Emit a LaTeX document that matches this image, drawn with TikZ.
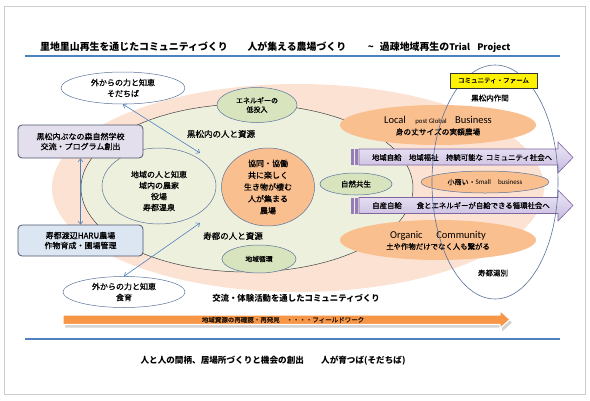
\documentclass[tikz,border=0pt]{standalone}
\usepackage{fontspec}
\setmainfont{Noto Sans CJK JP}[UprightFeatures={FakeBold=0.8}]
\newfontfamily\lat{Carlito}
\usetikzlibrary{shapes.geometric,arrows.meta}
\definecolor{peach}{RGB}{251,226,211}
\definecolor{greenbg}{RGB}{238,240,222}
\definecolor{greenell}{RGB}{215,228,189}
\definecolor{orangeell}{RGB}{250,191,143}
\definecolor{ellline}{RGB}{90,115,155}
\definecolor{blueline}{RGB}{79,129,189}
\definecolor{lavbox}{RGB}{228,223,236}
\definecolor{bluebox}{RGB}{220,230,242}
\definecolor{boxline}{RGB}{75,85,110}
\definecolor{arrorange}{RGB}{247,150,70}
\definecolor{purtop}{RGB}{238,233,247}
\definecolor{purbot}{RGB}{198,184,222}
\definecolor{purline}{RGB}{128,100,162}
\definecolor{stripe}{RGB}{150,125,185}
\pgfdeclareradialshading{peachglow}{\pgfpoint{0bp}{0bp}}{color(0bp)=(peach);color(42bp)=(peach);color(50bp)=(peach!40!white)}
\newcommand{\fs}[2]{\fontsize{#1}{#2}\selectfont}
\tikzset{
  ell/.style={ellipse, draw=ellline, line width=0.5pt, inner sep=0pt, align=center},
  roundbox/.style={draw=boxline, line width=0.8pt, rounded corners=4pt, inner sep=0pt, align=center},
  conn/.style={draw=blueline, line width=0.6pt, {Straight Barb[length=3pt,width=5pt]}-{Straight Barb[length=3pt,width=5pt]}},
  purarrow/.style={top color=purtop, bottom color=purbot, draw=purline, line width=0.6pt},
  txt/.style={inner sep=0pt, align=center}
}
\begin{document}
\begin{tikzpicture}[x=1pt,y=-1pt]
\useasboundingbox (0,0) rectangle (590,400);
\fill[white] (0,0) rectangle (590,400);
\draw[gray!40, line width=0.8pt] (4,6) rectangle (585,394);

% title
\node[txt, anchor=west, font=\fs{9.9}{11}\bfseries] (title) at (40,47) {里地里山再生を通じたコミュニティづくり\hspace{2em}人が集える農場づくり\hspace{2.2em}\textasciitilde\hspace{0.6em}過疎地域再生の{\fs{9}{11}\bfseries Trial\hspace{0.8em}Project}};
\draw[blueline, line width=1.2pt] (25,56) -- (560,56);

% background ellipses
\node[ellipse, minimum width=492pt, minimum height=208pt, shading=peachglow, inner sep=0pt] (peachbg) at (298,188) {};
\node[ellipse, draw=black!75, line width=0.5pt, fill=greenbg, minimum width=332pt, minimum height=168pt, inner sep=0pt] (greenbg) at (247,188) {};

% orange business ellipses
\node[ellipse, fill=orangeell, minimum width=196pt, minimum height=40pt, inner sep=0pt, align=center] (local) at (438,125) {};
\node[txt] (localtext) at (438,126) {{\lat\fs{10.5}{12}Local\hspace{0.9em}{\fs{6.8}{8}post Global}\hspace{0.8em}Business}\\[-1pt]{\fs{7.7}{9}身の丈サイズの実額農場}};
\node[ellipse, fill=orangeell, minimum width=196pt, minimum height=40pt, inner sep=0pt] (organic) at (438,240) {};
\node[txt] (organictext) at (438,240.5) {{\lat\fs{10.5}{12}Organic\hspace{1.3em}Community}\\[-1pt]{\fs{7.4}{9}土や作物だけでなく人も繋がる}};

% inner items
\node[ell, minimum width=114pt, minimum height=76pt] (inner) at (159,186) {};
\node[txt, font=\fs{8}{11}] (innertext) at (159,191) {地域の人と知恵\\域内の農家\\役場\\寿都温泉};
\node[ell, fill=orangeell, minimum width=93pt, minimum height=78pt, font=\fs{8}{11.8}] (core) at (268,187) {協同・協働\\共に楽しく\\生き物が棲む\\人が集まる\\農場};
\node[ell, fill=greenell, minimum width=80pt, minimum height=35pt, font=\fs{7}{9}] (energy) at (257,105) {エネルギーの\\低投入};
\node[ell, fill=greenell, minimum width=74pt, minimum height=28pt, font=\fs{6.8}{8}] (junkan) at (259,259) {地域循環};
\node[ell, fill=greenell, minimum width=72pt, minimum height=22pt, font=\fs{7.5}{9}] (shizen) at (356,184) {自然共生};
\node[txt, font=\fs{8.5}{10}] (kuroRes) at (221,134) {黒松内の人と資源};
\node[txt, font=\fs{8.5}{10}] (suttsuRes) at (233,236) {寿都の人と資源};

% purple arrows
\fill[stripe] (351,149) rectangle (353.5,165);
\fill[stripe] (355,149) rectangle (357.5,165);
\shade[purarrow] (359,149) -- (558,149) -- (558,142) -- (573,157.5) -- (558,173) -- (558,165) -- (359,165) -- cycle;
\node[txt, font=\fs{7.4}{9}] (arrow1text) at (462,157.5) {地域自給\hspace{1em}地域福祉\hspace{1em}持続可能な\hspace{0.4em}コミュニティ社会へ};
\fill[stripe] (351,197.5) rectangle (353.5,213.5);
\fill[stripe] (355,197.5) rectangle (357.5,213.5);
\shade[purarrow] (359,197.5) -- (558,197.5) -- (558,190) -- (573,205.5) -- (558,221) -- (558,213.5) -- (359,213.5) -- cycle;
\node[txt, font=\fs{7.4}{9}] (arrow2text) at (461,205.5) {自産自給\hspace{2em}食とエネルギーが自給できる循環社会へ};

\node[ell, fill=orangeell, minimum width=128pt, minimum height=22pt, font=\fs{7}{8}] (small) at (485,182) {小商い・{\lat Small\hspace{1em}business}};

% community farm
\node[ellipse, draw=ellline, line width=0.6pt, minimum width=126pt, minimum height=234pt, inner sep=0pt] (farm) at (495,182) {};
\node[draw=black!80, line width=0.6pt, fill=yellow, minimum width=87pt, minimum height=15pt, inner sep=0pt, font=\fs{6.5}{8}] (farmlabel) at (493.5,80.5) {コミュニティ・ファーム};
\node[txt, font=\fs{7.5}{9}] (kurosaku) at (490,98) {黒松内作間};
\node[txt, font=\fs{7.5}{9}] (yubetsu) at (493,273) {寿都湯別};

% left side
\node[ell, fill=white, minimum width=124pt, minimum height=32pt, font=\fs{8}{11}] (sodachi) at (123,88) {外からの力と知恵\\そだちば};
\node[ell, fill=white, minimum width=122pt, minimum height=31pt, font=\fs{8}{11}] (shokuiku) at (124,292) {外からの力と知恵\\食育};
\node[roundbox, fill=lavbox, minimum width=125pt, minimum height=33pt, font=\fs{8}{10}] (school) at (80.5,141.5) {黒松内ぶなの森自然学校\\交流・プログラム創出};
\node[roundbox, fill=bluebox, minimum width=125pt, minimum height=31pt, font=\fs{8}{10}] (haru) at (80.5,240.5) {寿都渡辺HARU農場\\作物育成・圃場管理};
\coordinate (kp) at (200,153);
\coordinate (sp) at (200,223);
\draw[conn] (sodachi.south) -- (kp);
\draw[conn] (shokuiku.north) -- (sp);
\draw[conn] (school.south) -- (haru.north);

% bottom
\node[txt, font=\fs{8.4}{10}\bfseries] (koryu) at (296,298) {交流・体験活動を通したコミュニティづくり};
\fill[gray!35] (65,318) -- (502,318) -- (502,313.5) -- (512,322.5) -- (502,331.5) -- (502,327.5) -- (65,327.5) -- cycle;
\filldraw[fill=arrorange, draw=white, line width=1.2pt] (63,315) -- (500,315) -- (500,310.5) -- (510,319.5) -- (500,328.5) -- (500,324.5) -- (63,324.5) -- cycle;
\node[txt, font=\fs{6.5}{8}, text=black!85!brown] (fieldwork) at (283,319.8) {地域資源の再確認・再発見\hspace{1em}・・・・フィールドワーク};
\draw[blueline, line width=1.2pt] (25,339) -- (560,339);
\node[txt, font=\fs{8.6}{10}\bfseries] (bottomtext) at (273,361) {人と人の間柄、居場所づくりと機会の創出\hspace{2em}人が育つば(そだちば)};
\end{tikzpicture}
\end{document}
